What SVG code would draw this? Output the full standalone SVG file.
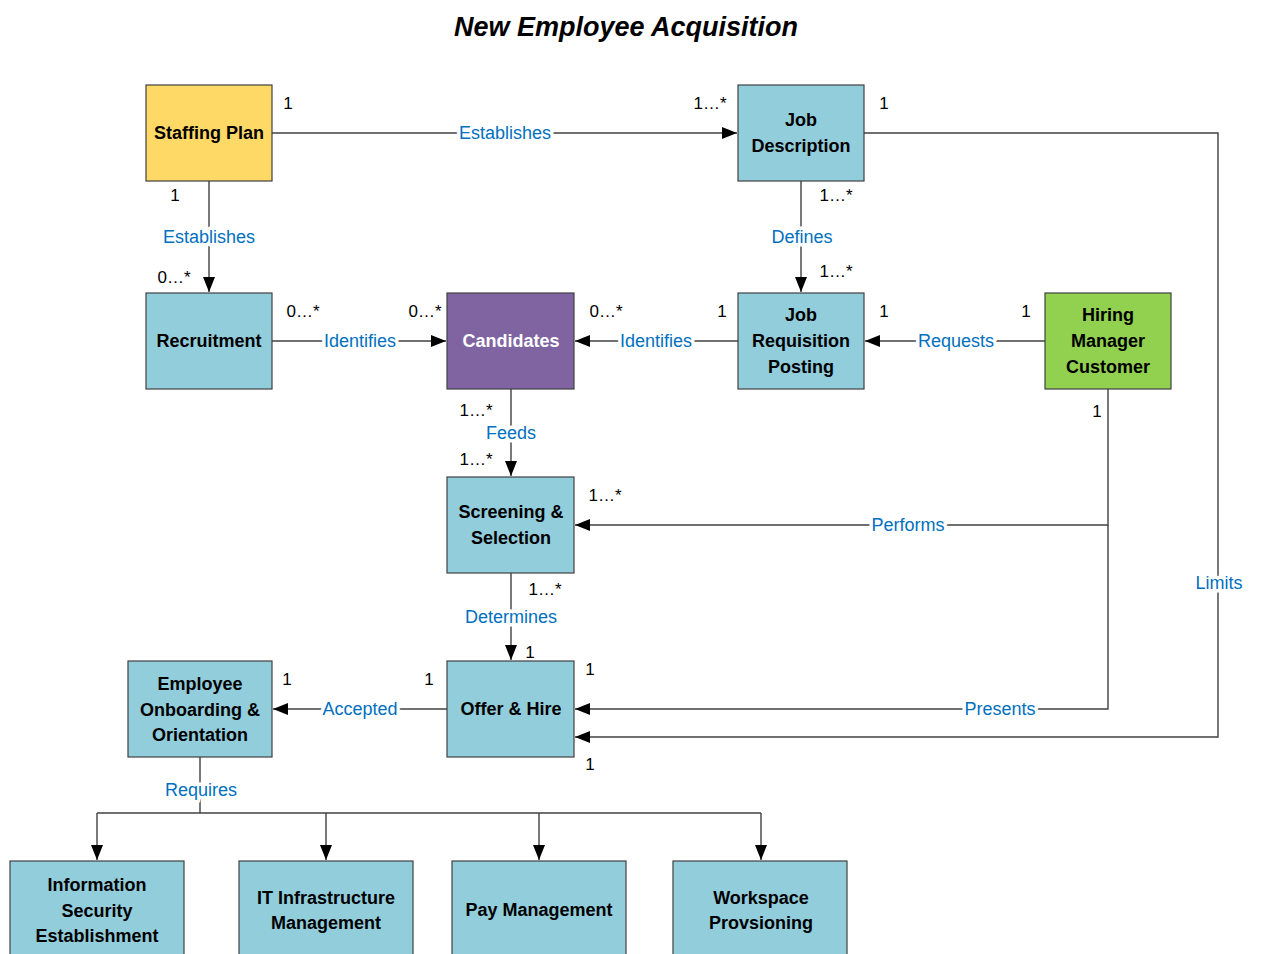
<svg xmlns="http://www.w3.org/2000/svg" width="1261" height="954" viewBox="0 0 1261 954">
<defs>
<marker id="arr" markerUnits="userSpaceOnUse" markerWidth="16" markerHeight="12" refX="15" refY="6" orient="auto">
<path d="M0,0 L15,6 L0,12 z" fill="#000"/>
</marker>
<style>
.box{stroke:#404040;stroke-width:1.2}
.blue{fill:#92CDDC}
.nt{font-family:"Liberation Sans",Arial,sans-serif;font-weight:bold;font-size:18px;fill:#000;text-anchor:middle}
.ln{fill:none;stroke:#404040;stroke-width:1.4}
.lbl{font-family:"Liberation Sans",Arial,sans-serif;font-size:18px;fill:#0070C0;text-anchor:middle;stroke:#fff;stroke-width:7;paint-order:stroke;stroke-linejoin:round}
.m{font-family:"Liberation Sans",Arial,sans-serif;font-size:17px;fill:#000;text-anchor:middle}
</style>
</defs>
<rect width="1261" height="954" fill="#fff"/>
<text x="626" y="36" font-family="Liberation Sans,Arial,sans-serif" font-size="27" font-weight="bold" font-style="italic" text-anchor="middle">New Employee Acquisition</text>

<g id="connectors">
<path class="ln" d="M272,133 H737" marker-end="url(#arr)"/>
<path class="ln" d="M209,181 V292" marker-end="url(#arr)"/>
<path class="ln" d="M272,341 H446" marker-end="url(#arr)"/>
<path class="ln" d="M738,341 H575" marker-end="url(#arr)"/>
<path class="ln" d="M801,181 V292" marker-end="url(#arr)"/>
<path class="ln" d="M1045,341 H865" marker-end="url(#arr)"/>
<path class="ln" d="M511,389 V476" marker-end="url(#arr)"/>
<path class="ln" d="M1108,389 V525 H575" marker-end="url(#arr)"/>
<path class="ln" d="M1108,525 V709 H575" marker-end="url(#arr)"/>
<path class="ln" d="M864,133 H1218 V737 H575" marker-end="url(#arr)"/>
<path class="ln" d="M511,573 V660" marker-end="url(#arr)"/>
<path class="ln" d="M447,709 H273" marker-end="url(#arr)"/>
<path class="ln" d="M200,757 V813"/>
<path class="ln" d="M97,813 H761"/>
<path class="ln" d="M97,813 V860" marker-end="url(#arr)"/>
<path class="ln" d="M326,813 V860" marker-end="url(#arr)"/>
<path class="ln" d="M539,813 V860" marker-end="url(#arr)"/>
<path class="ln" d="M761,813 V860" marker-end="url(#arr)"/>

<text class="lbl" x="505" y="139">Establishes</text>
<text class="lbl" x="209" y="243">Establishes</text>
<text class="lbl" x="360" y="347">Identifies</text>
<text class="lbl" x="656" y="347">Identifies</text>
<text class="lbl" x="802" y="243">Defines</text>
<text class="lbl" x="956" y="347">Requests</text>
<text class="lbl" x="511" y="439">Feeds</text>
<text class="lbl" x="908" y="531">Performs</text>
<text class="lbl" x="511" y="623">Determines</text>
<text class="lbl" x="1000" y="715">Presents</text>
<text class="lbl" x="1219" y="589">Limits</text>
<text class="lbl" x="360" y="715">Accepted</text>
<text class="lbl" x="201" y="796">Requires</text>

<text class="m" x="288" y="109">1</text>
<text class="m" x="710" y="109">1…*</text>
<text class="m" x="884" y="109">1</text>
<text class="m" x="175" y="201">1</text>
<text class="m" x="174" y="283">0…*</text>
<text class="m" x="836" y="201">1…*</text>
<text class="m" x="836" y="277">1…*</text>
<text class="m" x="303" y="317">0…*</text>
<text class="m" x="425" y="317">0…*</text>
<text class="m" x="606" y="317">0…*</text>
<text class="m" x="722" y="317">1</text>
<text class="m" x="884" y="317">1</text>
<text class="m" x="1026" y="317">1</text>
<text class="m" x="476" y="416">1…*</text>
<text class="m" x="1097" y="417">1</text>
<text class="m" x="476" y="465">1…*</text>
<text class="m" x="605" y="501">1…*</text>
<text class="m" x="545" y="595">1…*</text>
<text class="m" x="530" y="658">1</text>
<text class="m" x="590" y="675">1</text>
<text class="m" x="287" y="685">1</text>
<text class="m" x="429" y="685">1</text>
<text class="m" x="590" y="770">1</text>
</g>

<g id="staffing-plan">
<rect class="box" x="146" y="85" width="126" height="96" fill="#FFD966"/>
<text class="nt" x="209" y="139">Staffing Plan</text>
</g>
<g id="job-description">
<rect class="box blue" x="738" y="85" width="126" height="96"/>
<text class="nt" x="801" y="126">Job</text>
<text class="nt" x="801" y="152">Description</text>
</g>
<g id="recruitment">
<rect class="box blue" x="146" y="293" width="126" height="96"/>
<text class="nt" x="209" y="347">Recruitment</text>
</g>
<g id="candidates">
<rect class="box" x="447" y="293" width="127" height="96" fill="#8064A2"/>
<text class="nt" x="511" y="347" style="fill:#fff">Candidates</text>
</g>
<g id="job-requisition">
<rect class="box blue" x="738" y="293" width="126" height="96"/>
<text class="nt" x="801" y="321">Job</text>
<text class="nt" x="801" y="347">Requisition</text>
<text class="nt" x="801" y="373">Posting</text>
</g>
<g id="hiring-manager">
<rect class="box" x="1045" y="293" width="126" height="96" fill="#92D050"/>
<text class="nt" x="1108" y="321">Hiring</text>
<text class="nt" x="1108" y="347">Manager</text>
<text class="nt" x="1108" y="373">Customer</text>
</g>
<g id="screening">
<rect class="box blue" x="447" y="477" width="127" height="96"/>
<text class="nt" x="511" y="518">Screening &amp;</text>
<text class="nt" x="511" y="544">Selection</text>
</g>
<g id="offer-hire">
<rect class="box blue" x="447" y="661" width="127" height="96"/>
<text class="nt" x="511" y="715">Offer &amp; Hire</text>
</g>
<g id="onboarding">
<rect class="box blue" x="128" y="661" width="144" height="96"/>
<text class="nt" x="200" y="690">Employee</text>
<text class="nt" x="200" y="716">Onboarding &amp;</text>
<text class="nt" x="200" y="741">Orientation</text>
</g>
<g id="info-security">
<rect class="box blue" x="10" y="861" width="174" height="98"/>
<text class="nt" x="97" y="891">Information</text>
<text class="nt" x="97" y="917">Security</text>
<text class="nt" x="97" y="942">Establishment</text>
</g>
<g id="it-infrastructure">
<rect class="box blue" x="239" y="861" width="174" height="98"/>
<text class="nt" x="326" y="904">IT Infrastructure</text>
<text class="nt" x="326" y="929">Management</text>
</g>
<g id="pay-management">
<rect class="box blue" x="452" y="861" width="174" height="98"/>
<text class="nt" x="539" y="916">Pay Management</text>
</g>
<g id="workspace">
<rect class="box blue" x="673" y="861" width="174" height="98"/>
<text class="nt" x="761" y="904">Workspace</text>
<text class="nt" x="761" y="929">Provsioning</text>
</g>
</svg>
